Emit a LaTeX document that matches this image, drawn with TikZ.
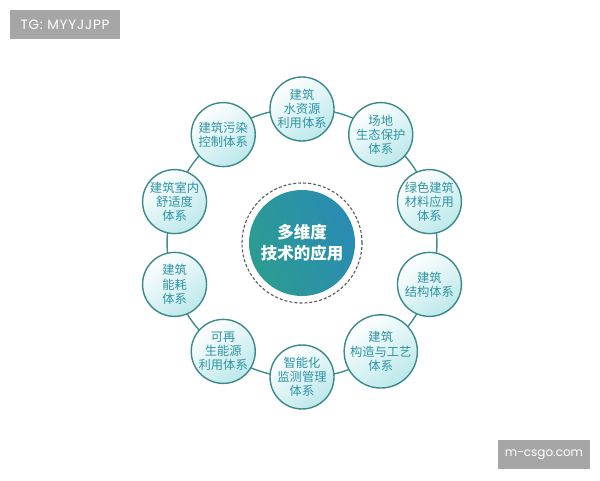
\documentclass[tikz,border=0pt]{standalone}
\usepackage{fontspec}
\setmainfont{Noto Sans CJK SC}
\newfontfamily\wmfont{Poppins}
\newfontfamily\wmfontwide[LetterSpace=6]{Poppins}
\usetikzlibrary{backgrounds}
\definecolor{ringc}{HTML}{3F8D8D}
\definecolor{bordc}{HTML}{3A8A8C}
\definecolor{fillc}{HTML}{BDE8EB}
\definecolor{txtc}{HTML}{2E93A2}
\definecolor{cenl}{HTML}{2C9C92}
\definecolor{cenr}{HTML}{2A8BB3}
\definecolor{wmgray}{HTML}{A6A6A6}
\tikzset{
  sub/.style={circle, draw=bordc, line width=1.4pt, minimum size=64pt, inner sep=0pt,
    top color=white, bottom color=fillc, shading angle=35,
    text=txtc, align=center, font=\fontsize{12.3}{14.2}\selectfont},
  ringline/.style={draw=ringc, line width=1.4pt},
  wm/.style={fill=wmgray, text=white, inner sep=0pt, font=\wmfont\fontsize{12}{14}\selectfont}
}
\begin{document}
\begin{tikzpicture}[x=1pt,y=1pt]
\useasboundingbox (0,0) rectangle (600,480);
\coordinate (O) at (302,237);
\node[circle, minimum size=106pt, inner sep=0pt, left color=cenl, right color=cenr, shading angle=110,
  text=white, align=center, font=\fontsize{16.5}{21}\selectfont\bfseries] (c) at (O) {多维度\\技术的应用};
\node[circle, draw=black!65, dashed, line width=1.1pt, minimum size=120pt, inner sep=0pt,
  dash pattern=on 3pt off 2pt] (cd) at (O) {};
\node[sub] (n0) at ([shift={(90:134)}]O) {建筑\\水资源\\利用体系};
\node[sub] (n1) at ([shift={(54:134)}]O) {场地\\生态保护\\体系};
\node[sub] (n2) at ([shift={(18:134)}]O) {绿色建筑\\材料应用\\体系};
\node[sub] (n3) at ([shift={(-18:134)}]O) {建筑\\结构体系};
\node[sub] (n4) at ([shift={(-54:134)}]O) {建筑\\构造与工艺\\体系};
\node[sub] (n5) at ([shift={(-90:134)}]O) {智能化\\监测管理\\体系};
\node[sub] (n6) at ([shift={(-126:134)}]O) {可再\\生能源\\利用体系};
\node[sub] (n7) at ([shift={(-162:134)}]O) {建筑\\能耗\\体系};
\node[sub] (n8) at ([shift={(162:134)}]O) {建筑室内\\舒适度\\体系};
\node[sub] (n9) at ([shift={(126:134)}]O) {建筑污染\\控制体系};
\begin{scope}[on background layer]
\fill[white] (0,0) rectangle (600,480);
\foreach \a/\b in {n0/n1,n1/n2,n2/n3,n3/n4,n4/n5,n5/n6,n6/n7,n7/n8,n8/n9,n9/n0}
  \draw[ringline] (\a.center) to[bend left=18] (\b.center);
\end{scope}
\node[wm, minimum width=110pt, minimum height=29pt, font=\wmfontwide\fontsize{13.5}{15}\selectfont] (w1) at (65,455.5) {TG: MYYJJPP};
\node[wm, minimum width=92pt, minimum height=29pt] (w2) at (544,25.5) {m-csgo.com};
\end{tikzpicture}
\end{document}
